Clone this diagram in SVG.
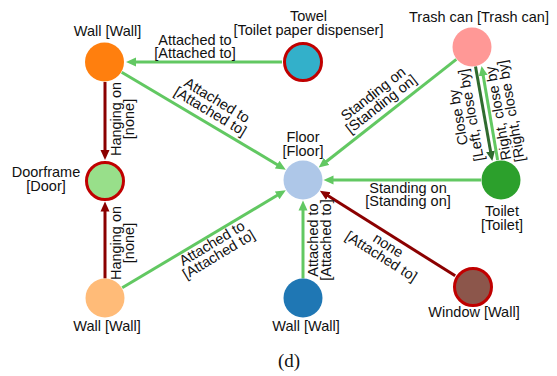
<svg xmlns="http://www.w3.org/2000/svg" width="557" height="376" viewBox="0 0 557 376">
  <style>
    text { font-family: "Liberation Sans", Arial, sans-serif; font-size: 14.5px; fill: #111; }
    .lbl { text-anchor: middle; }
    .node { stroke: none; }
    .flag { stroke: #c00000; stroke-width: 3; }
    .e { fill: none; stroke-width: 3; }
    .green { stroke: #62c862; }
    .red { stroke: #8b0000; }
    .dgreen { stroke: #2f6b2f; }
    .cap { font-family: "Liberation Serif", "Times New Roman", serif; font-size: 19px; text-anchor: middle; }
  </style>
  <defs>
    <marker id="ah-green" markerUnits="userSpaceOnUse" markerWidth="11" markerHeight="10" refX="5" refY="5" orient="auto">
      <path d="M0,0.5 L10,5 L0,9.5 z" fill="#62c862"/>
    </marker>
    <marker id="ah-red" markerUnits="userSpaceOnUse" markerWidth="11" markerHeight="10" refX="5" refY="5" orient="auto">
      <path d="M0,0.5 L10,5 L0,9.5 z" fill="#8b0000"/>
    </marker>
    <marker id="ah-dgreen" markerUnits="userSpaceOnUse" markerWidth="11" markerHeight="10" refX="5" refY="5" orient="auto">
      <path d="M0,0.5 L10,5 L0,9.5 z" fill="#2f6b2f"/>
    </marker>
  </defs>

  <rect width="557" height="376" fill="#ffffff"/>

  <!-- connectors -->
  <g id="edges">
    <path class="e green" d="M282,62 L131,62" marker-end="url(#ah-green)"/>
    <path class="e green" d="M121.7,72.2 L281.5,167.2" marker-end="url(#ah-green)"/>
    <path class="e red" d="M105,82 L105,155" marker-end="url(#ah-red)"/>
    <path class="e red" d="M105,278.5 L105,206.5" marker-end="url(#ah-red)"/>
    <path class="e green" d="M122.2,287.8 L281.5,192.8" marker-end="url(#ah-green)"/>
    <path class="e green" d="M303,278.5 L303,205.5" marker-end="url(#ah-green)"/>
    <path class="e red" d="M455.2,275.8 L324.1,193.3" marker-end="url(#ah-red)"/>
    <path class="e green" d="M456.3,59.4 L322.6,164.5" marker-end="url(#ah-green)"/>
    <path class="e green" d="M481,180 L328.5,180" marker-end="url(#ah-green)"/>
    <path class="e dgreen" d="M475.5,66.5 L491.4,156.1" marker-end="url(#ah-dgreen)"/>
    <path class="e green" d="M497.6,160 L482.4,70.9" marker-end="url(#ah-green)"/>

    <!-- connector labels -->
    <text class="lbl"><tspan x="195" y="45">Attached to</tspan><tspan x="195" y="57.5">[Attached to]</tspan></text>
    <text class="lbl" transform="translate(213,107) rotate(31)"><tspan x="0" y="-3">Attached to</tspan><tspan x="0" y="10">[Attached to]</tspan></text>
    <text class="lbl" transform="translate(124,119) rotate(-90)"><tspan x="0" y="-3">Hanging on</tspan><tspan x="0" y="10">[none]</tspan></text>
    <text class="lbl" transform="translate(124,243) rotate(-90)"><tspan x="0" y="-3">Hanging on</tspan><tspan x="0" y="10">[none]</tspan></text>
    <text class="lbl" transform="translate(216,250) rotate(-31)"><tspan x="0" y="-3">Attached to</tspan><tspan x="0" y="10">[Attached to]</tspan></text>
    <text class="lbl" transform="translate(321,240) rotate(-90)"><tspan x="0" y="-3">Attached to</tspan><tspan x="0" y="10">[Attached to]</tspan></text>
    <text class="lbl" transform="translate(384,252) rotate(32.2)"><tspan x="0" y="-3">none</tspan><tspan x="0" y="10">[Attached to]</tspan></text>
    <text class="lbl" transform="translate(378,100) rotate(-38.2)"><tspan x="0" y="-3">Standing on</tspan><tspan x="0" y="10">[Standing on]</tspan></text>
    <text class="lbl"><tspan x="408" y="193">Standing on</tspan><tspan x="408" y="206">[Standing on]</tspan></text>
    <text class="lbl" transform="translate(466,116) rotate(-100)"><tspan x="0" y="-3">Close by</tspan><tspan x="0" y="10">[Left, close by]</tspan></text>
    <text class="lbl" transform="translate(506,112) rotate(-100)"><tspan x="0" y="-3">Right, close by</tspan><tspan x="0" y="10">[Right, close by]</tspan></text>
  </g>

  <!-- nodes -->
  <g id="wall-top">
    <circle class="node" cx="104.5" cy="62" r="19.5" fill="#ff7f0e"/>
    <text class="lbl" x="107.5" y="36">Wall [Wall]</text>
  </g>
  <g id="towel">
    <circle class="flag" cx="303" cy="62" r="18.5" fill="#33b0ca"/>
    <text class="lbl"><tspan x="308.5" y="21">Towel</tspan><tspan x="308.5" y="34.5">[Toilet paper dispenser]</tspan></text>
  </g>
  <g id="trash-can">
    <circle class="node" cx="472" cy="47" r="19.5" fill="#ff9896"/>
    <text class="lbl" x="479" y="22">Trash can [Trash can]</text>
  </g>
  <g id="doorframe">
    <circle class="flag" cx="105" cy="181" r="18.5" fill="#98df8a"/>
    <text class="lbl"><tspan x="46" y="177">Doorframe</tspan><tspan x="46" y="190.5">[Door]</tspan></text>
  </g>
  <g id="floor">
    <circle class="node" cx="303" cy="180" r="19.5" fill="#aec7e8"/>
    <text class="lbl"><tspan x="303" y="142">Floor</tspan><tspan x="303" y="155.5">[Floor]</tspan></text>
  </g>
  <g id="toilet">
    <circle class="node" cx="501" cy="180" r="19.5" fill="#2ca02c"/>
    <text class="lbl"><tspan x="502" y="216">Toilet</tspan><tspan x="502" y="229.5">[Toilet]</tspan></text>
  </g>
  <g id="wall-bottom-left">
    <circle class="node" cx="105" cy="298" r="19.5" fill="#ffbb78"/>
    <text class="lbl" x="107" y="331">Wall [Wall]</text>
  </g>
  <g id="wall-bottom">
    <circle class="node" cx="303" cy="298" r="19.5" fill="#1f77b4"/>
    <text class="lbl" x="306" y="331">Wall [Wall]</text>
  </g>
  <g id="window">
    <circle class="flag" cx="473" cy="287" r="18.5" fill="#8c564b"/>
    <text class="lbl" x="474" y="317">Window [Wall]</text>
  </g>

  <text class="cap" x="289" y="367">(d)</text>
</svg>
